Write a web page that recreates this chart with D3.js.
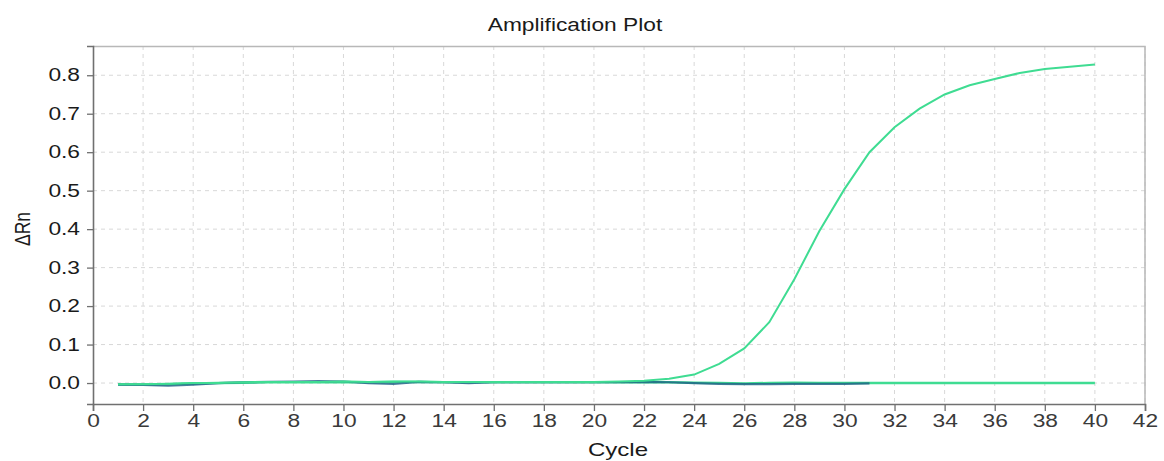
<!DOCTYPE html>
<html>
<head>
<meta charset="utf-8">
<script src="https://cdn.jsdelivr.net/npm/d3@7"></script>
<style>
  body { margin: 0; background: #fff; }
  svg { display: block; font-family: "Liberation Sans", Arial, sans-serif; }
</style>
</head>
<body>
<svg id="chart" width="1164" height="461"></svg>
<script>
// cycles 1..40
var cycles = d3.range(1, 41);
var xTicks = d3.range(0, 43, 2);
var yTicks = [0, 0.1, 0.2, 0.3, 0.4, 0.5, 0.6, 0.7, 0.8];

// amplifying sample
var sampleRn = [-0.003, -0.003, -0.002, 0.000, 0.000, 0.002, 0.003, 0.003, 0.003, 0.004,
                0.003, 0.004, 0.004, 0.003, 0.003, 0.003, 0.003, 0.003, 0.003, 0.003,
                0.004, 0.006, 0.011, 0.022, 0.050, 0.090, 0.158, 0.270, 0.395, 0.504,
                0.600, 0.665, 0.713, 0.750, 0.774, 0.790, 0.806, 0.816, 0.822, 0.828];
// flat green replicate
var flatRn = [-0.004, -0.004, -0.003, -0.001, 0.000, 0.001, 0.002, 0.002, 0.002, 0.003,
              0.002, 0.003, 0.003, 0.002, 0.002, 0.002, 0.002, 0.002, 0.002, 0.002,
              0.002, 0.002, 0.002, 0.001, 0.000, -0.001, 0.000, 0.001, 0.000, 0.000,
              0.000, 0.000, 0.000, 0.000, 0.000, 0.000, 0.000, 0.000, 0.000, 0.000];
// dark blue replicate (cycles 1..31)
var blueRn = [-0.004, -0.005, -0.007, -0.004, 0.000, 0.002, 0.003, 0.004, 0.005, 0.004,
              0.000, -0.002, 0.003, 0.002, 0.000, 0.002, 0.002, 0.002, 0.002, 0.002,
              0.002, 0.003, 0.002, 0.000, -0.002, -0.003, -0.003, -0.002, -0.002, -0.002,
              -0.001];

function draw() {
  var margin = {top: 46, right: 19, bottom: 57, left: 93};
  var svg = d3.select("#chart");
  var width = 1164 - margin.left - margin.right;
  var height = 461 - margin.top - margin.bottom;
  var stretch = 1.3;

  var x = d3.scaleLinear().domain([0, 42]).range([0, width]);
  var y = d3.scaleLinear().domain([-0.0545, 0.876]).range([height, 0]);

  var g = svg.append("g")
    .attr("transform", "translate(" + margin.left + "," + margin.top + ")");

  // grid
  g.append("g").selectAll("line").data(xTicks.filter(function(d) { return d > 0; }))
    .enter().append("line")
    .attr("x1", function(d) { return x(d); }).attr("x2", function(d) { return x(d); })
    .attr("y1", 0).attr("y2", height)
    .attr("stroke", "#d8d8d8").attr("stroke-dasharray", "4,4");
  g.append("g").selectAll("line").data(yTicks)
    .enter().append("line")
    .attr("x1", 0).attr("x2", width)
    .attr("y1", function(d) { return y(d); }).attr("y2", function(d) { return y(d); })
    .attr("stroke", "#d8d8d8").attr("stroke-dasharray", "4,4");

  // frame top/right
  g.append("path")
    .attr("d", "M0,0.5H" + width + "V" + height)
    .attr("fill", "none").attr("stroke", "#b8b8b8").attr("stroke-width", 1.5);

  var line = d3.line()
    .x(function(d, i) { return x(cycles[i]); })
    .y(function(d) { return y(d); });

  g.append("path").datum(flatRn).attr("d", line)
    .attr("fill", "none").attr("stroke", "#3fdc92").attr("stroke-width", 2.5);
  g.append("path").datum(blueRn).attr("d", line)
    .attr("fill", "none").attr("stroke", "#1f5e86").attr("stroke-width", 2.2).attr("stroke-opacity", 0.8);
  g.append("path").datum(sampleRn).attr("d", line)
    .attr("fill", "none").attr("stroke", "#3fdc92").attr("stroke-width", 2);

  // axes
  var xAxis = g.append("g")
    .attr("transform", "translate(0," + height + ")")
    .call(d3.axisBottom(x).tickValues(xTicks).tickFormat(d3.format("d")).tickSize(7).tickPadding(4));
  var yAxis = g.append("g")
    .call(d3.axisLeft(y).tickValues(yTicks).tickFormat(d3.format(".1f")).tickSize(6).tickPadding(7));

  [xAxis, yAxis].forEach(function(a) {
    a.select(".domain").attr("stroke", "#707070").attr("stroke-width", 1.6);
    a.selectAll(".tick line").attr("stroke", "#707070").attr("stroke-width", 1.3);
    a.selectAll("text").attr("font-size", 17.5).attr("fill", "#1a1a1a")
      .attr("font-family", "Liberation Sans, Arial, sans-serif");
  });
  xAxis.selectAll("text").attr("fill", "#3a3a3a");

  // widen text like the original
  svg.selectAll(".tick text").each(function() {
    var w = this.getComputedTextLength();
    d3.select(this).attr("textLength", w * stretch).attr("lengthAdjust", "spacingAndGlyphs");
  });

  var title = svg.append("text")
    .attr("x", 575).attr("y", 31)
    .attr("text-anchor", "middle")
    .attr("font-size", 17.5).attr("fill", "#1a1a1a")
    .text("Amplification Plot");
  var xLabel = svg.append("text")
    .attr("x", 618).attr("y", 456)
    .attr("text-anchor", "middle")
    .attr("font-size", 18.5).attr("fill", "#1a1a1a")
    .text("Cycle");
  [title, xLabel].forEach(function(t) {
    var w = t.node().getComputedTextLength();
    t.attr("textLength", w * stretch).attr("lengthAdjust", "spacingAndGlyphs");
  });

  svg.append("text")
    .attr("transform", "translate(30,229) scale(" + stretch + ",1) rotate(-90)")
    .attr("text-anchor", "middle")
    .attr("font-size", 17.5).attr("fill", "#1a1a1a")
    .text("ΔRn");
}

draw();
</script>
</body>
</html>
